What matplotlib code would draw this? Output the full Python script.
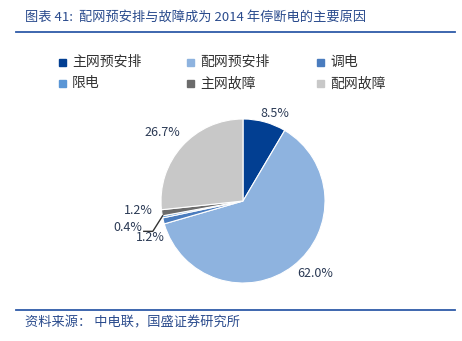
import matplotlib.pyplot as plt
from matplotlib.patches import Rectangle

plt.rcParams['font.family'] = ['Noto Sans CJK SC', 'DejaVu Sans']

categories = ['主网预安排', '配网预安排', '调电', '限电', '主网故障', '配网故障']
shares = [8.5, 62.0, 1.2, 0.4, 1.2, 26.7]
colors = ['#023F92', '#8EB3DF', '#4A7CBE', '#5A96D6', '#6B6B6B', '#C8C8C8']

# label positions in pie-radius units (x, y)
label_pos = [(0.39, 1.07), (0.88, -0.88), (-1.13, -0.45),
             (-1.40, -0.32), (-1.28, -0.11), (-0.98, 0.84)]

fig = plt.figure(figsize=(4.62, 3.41), dpi=100)
W, H = 462, 341

# title and rules
fig.text(25 / W, 1 - 17 / H, '图表 41:  配网预安排与故障成为 2014 年停断电的主要原因',
         fontsize=9.5, color='#2A4B8D', style='italic', va='center', ha='left')
fig.add_artist(plt.Line2D([16 / W, 455 / W], [1 - 32 / H] * 2, color='#2E5BA8', lw=1.3))
fig.add_artist(plt.Line2D([16 / W, 455 / W], [1 - 310 / H] * 2, color='#2E5BA8', lw=1.3))
fig.text(25 / W, 1 - 323 / H, '资料来源： 中电联，国盛证券研究所',
         fontsize=9.5, color='#2A4B8D', style='italic', va='center', ha='left')

# legend drawn as two rows of three
col_x = [62, 190, 320]
row_y = [62, 83]
for i, (name, c) in enumerate(zip(categories, colors)):
    x = col_x[i % 3]
    y = row_y[i // 3]
    fig.add_artist(Rectangle((x / W - 3.5 / W, 1 - (y + 3.5) / H), 7 / W, 7 / H,
                             transform=fig.transFigure, color=c))
    fig.text((x + 10) / W, 1 - y / H, name, fontsize=10, color='#333333',
             va='center', ha='left')

# pie
cx, cy, r = 243, 201, 82
ax = fig.add_axes([(cx - r) / W, 1 - (cy + r) / H, 2 * r / W, 2 * r / H])
wedges, _ = ax.pie(shares, colors=colors, startangle=90, counterclock=False,
                   wedgeprops=dict(edgecolor='white', linewidth=0.8))
ax.set_xlim(-1, 1)
ax.set_ylim(-1, 1)
ax.set_aspect('auto')
ax.axis('off')

for v, (lx, ly) in zip(shares, label_pos):
    ax.text(lx, ly, f'{v:.1f}%', fontsize=9, color='#2B3A55',
            ha='center', va='center', clip_on=False)

# leader line for the 0.4% slice
ax.plot([-1.21, -1.10, -0.98], [-0.37, -0.37, -0.18], color='#333333', lw=1,
        clip_on=False)

fig.savefig('out.png', dpi=100)
